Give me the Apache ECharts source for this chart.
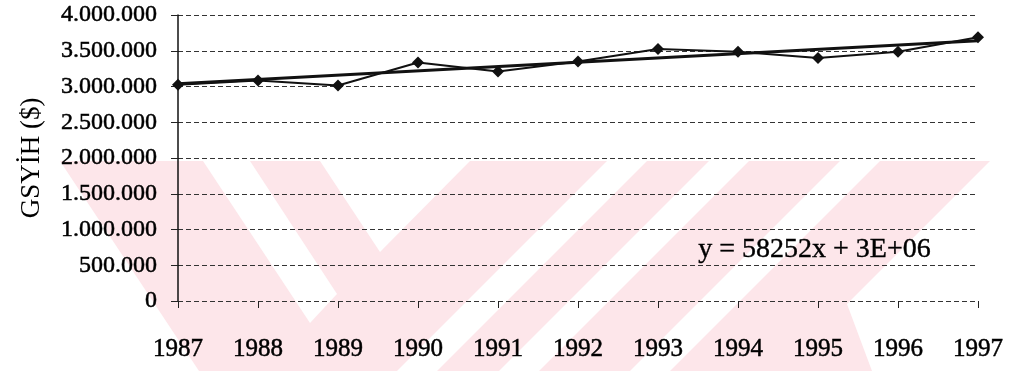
<!DOCTYPE html>
<html>
<head>
<meta charset="utf-8">
<script src="https://cdn.jsdelivr.net/npm/echarts@6/dist/echarts.min.js"></script>
<style>
html,body{margin:0;padding:0;background:#fff;}
#chart{width:1011px;height:371px;}
</style>
</head>
<body>
<div id="chart"></div>
<script>
// ---- data ----
const years = ['1987','1988','1989','1990','1991','1992','1993','1994','1995','1996','1997'];
const gdp = [3025000, 3085000, 3015000, 3335000, 3210000, 3350000, 3525000, 3485000, 3400000, 3485000, 3690000];
const trendEnds = [3040000, 3640000];
const yTicks = [0, 500000, 1000000, 1500000, 2000000, 2500000, 3000000, 3500000, 4000000];
const equationText = 'y = 58252x + 3E+06';
const yAxisTitle = 'GSYİH ($)';

// ---- decoration: background watermark of the scanned page ----
const pink = '#fde6ea';
const wmPink = [[60,161],[990,161],[847,304],[872,371],[199,371]];
const wmWhite = [
  [[203,161],[250,161],[337,294],[310,323]],
  [[320,161],[470,161],[380,252]],
  [[607,161],[647,161],[437,371],[397,371]],
  [[709,161],[749,161],[539,371],[499,371]],
  [[840,161],[880,161],[670,371],[630,371]]
];

const serif = "'Liberation Serif', 'Times New Roman', serif";
function fmt(v){ return String(v).replace(/\B(?=(\d{3})+(?!\d))/g, '.'); }

const trendData = [[years[0], trendEnds[0]], [years[years.length-1], trendEnds[1]]];

const graphics = [{type:'polygon', shape:{points: wmPink}, style:{fill: pink}, silent:true, z:-10}];
wmWhite.forEach(p => graphics.push({type:'polygon', shape:{points:p}, style:{fill:'#ffffff'}, silent:true, z:-9}));
graphics.push({type:'text', left:698, top:235, silent:true, z:5,
  style:{text: equationText, font: "28px " + serif, fill:'#000', stroke:'#000', lineWidth:0.4}});

const chart = echarts.init(document.getElementById('chart'));
chart.setOption({
  backgroundColor: '#ffffff',
  animation: false,
  graphic: graphics,
  grid: {left:178, right:33, top:15, bottom:70, containLabel:false},
  xAxis: {
    type:'category', data: years, boundaryGap:false,
    axisLine:{show:false},
    axisTick:{show:true, length:7, lineStyle:{color:'#222', width:1}},
    axisLabel:{margin:36, fontFamily: serif, fontSize:25, color:'#000',
               textBorderColor:'#000', textBorderWidth:0.5},
    splitLine:{show:false}
  },
  yAxis: {
    type:'value', min: yTicks[0], max: yTicks[yTicks.length-1], interval: yTicks[1]-yTicks[0],
    name: yAxisTitle, nameLocation:'middle', nameGap:133, nameRotate:90,
    nameTextStyle:{fontFamily: serif, fontSize:27, color:'#000'},
    axisLine:{show:true, lineStyle:{color:'#111', width:1.5}},
    axisTick:{show:true, length:7, lineStyle:{color:'#222'}},
    axisLabel:{margin:21, fontFamily: serif, fontSize:24, color:'#000', formatter: fmt,
               textBorderColor:'#000', textBorderWidth:0.5},
    splitLine:{show:true, lineStyle:{color:'#333', width:1, type:[5,3]}}
  },
  series: [
    {type:'line', data: gdp, symbol:'diamond', symbolSize:12,
     lineStyle:{color:'#111', width:2}, itemStyle:{color:'#111'}, z:3},
    {type:'line', data: trendData, symbol:'none',
     lineStyle:{color:'#111', width:3}, z:4}
  ]
});
</script>
</body>
</html>
